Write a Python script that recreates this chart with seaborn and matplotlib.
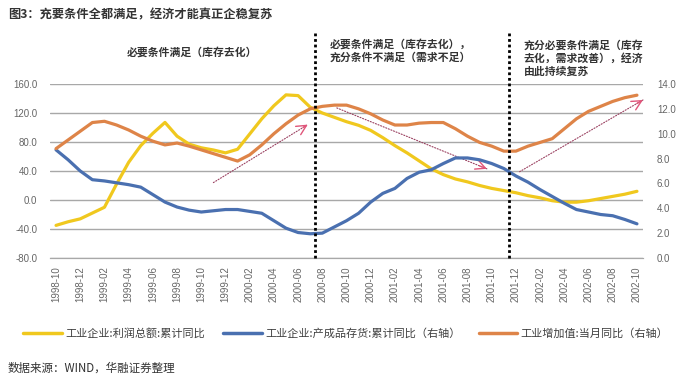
import numpy as np
import pandas as pd
import matplotlib
matplotlib.use("Agg")
import matplotlib.pyplot as plt
import seaborn as sns

# === Data (monthly 1998-10 .. 2002-10) ===
months = pd.period_range("1998-10", "2002-10", freq="M").strftime("%Y-%m").tolist()

# 工业企业:利润总额:累计同比 (left axis)
profit = [-35, -30, -26, -18, -10, 22, 52, 75, 92, 107,
          88, 77, 72, 69, 65, 70, 91, 112, 130, 145,
          144, 128, 120, 114, 108, 103, 96, 86, 75, 65,
          54, 43, 35, 29, 25, 20, 16, 13, 10, 6,
          3, -1, -3, -3, -1, 2, 5, 8, 12]

# 工业企业:产成品存货:累计同比 (right axis)
inventory = [8.7, 7.9, 7.0, 6.3, 6.2, 6.05, 5.9, 5.7, 5.1, 4.5,
             4.1, 3.85, 3.7, 3.8, 3.9, 3.9, 3.75, 3.6, 3.0, 2.4,
             2.05, 1.95, 2.0, 2.5, 3.0, 3.6, 4.5, 5.2, 5.6, 6.4,
             6.9, 7.1, 7.6, 8.05, 8.05, 7.9, 7.6, 7.2, 6.6, 6.1,
             5.5, 4.95, 4.4, 3.9, 3.7, 3.5, 3.4, 3.1, 2.75]

# 工业增加值:当月同比 (right axis)
iva = [8.8, 9.5, 10.2, 10.9, 11.0, 10.7, 10.3, 9.8, 9.4, 9.1,
       9.25, 9.0, 8.7, 8.4, 8.1, 7.8, 8.3, 9.1, 10.0, 10.8,
       11.5, 12.0, 12.2, 12.3, 12.3, 12.0, 11.6, 11.1, 10.7, 10.7,
       10.85, 10.9, 10.9, 10.4, 9.8, 9.3, 9.0, 8.6, 8.6, 9.0,
       9.3, 9.6, 10.4, 11.2, 11.8, 12.2, 12.6, 12.9, 13.1]

labels = ["工业企业:利润总额:累计同比",
          "工业企业:产成品存货:累计同比（右轴）",
          "工业增加值:当月同比（右轴）"]
colors = ["#F0C81E", "#4A70B0", "#DE8448"]

# phase dividers (month index) and trend arrows (month index, left-axis value)
dividers = [21.4, 37.4]
arrows = [((13.0, 24), (20.8, 104)),
          ((23.2, 127), (35.6, 43)),
          ((38.3, 39), (48.5, 138))]

# === Style ===
sns.set_style("white")
plt.rcParams["font.family"] = ["Liberation Sans", "Noto Sans CJK SC", "DejaVu Sans"]

W, H = 677, 381
fig = plt.figure(figsize=(W / 100, H / 100), dpi=100)
ax = fig.add_axes([50 / W, 1 - 258 / H, 593 / W, 174 / H])
ax2 = ax.twinx()

x = np.arange(len(months))
sns.lineplot(x=x, y=profit, ax=ax, color=colors[0], lw=2.3, legend=False)
sns.lineplot(x=x, y=inventory, ax=ax2, color=colors[1], lw=2.3, legend=False)
sns.lineplot(x=x, y=iva, ax=ax2, color=colors[2], lw=2.3, legend=False)

ax.set_xlim(-0.5, 48.5)
ax.set_ylim(-80, 160)
ax2.set_ylim(0, 14)
ax.set_yticks(range(-80, 161, 40))
ax.set_yticklabels([f"{v:.1f}" for v in range(-80, 161, 40)])
ax2.set_yticks(range(0, 15, 2))
ax2.set_yticklabels([f"{v:.1f}" for v in range(0, 15, 2)])
ax.set_xticks(x[::2])
ax.set_xticklabels(months[::2], rotation=90)

ax.yaxis.grid(True, color="#A8A8A8", lw=1.0)
ax.set_axisbelow(True)
for a in (ax, ax2):
    for s in ("left", "right", "top"):
        a.spines[s].set_visible(False)
    a.spines["bottom"].set_color("#A8A8A8")
    a.tick_params(length=0, labelsize=7, labelcolor="#666666")
ax.tick_params(axis="y", pad=9)
ax2.tick_params(axis="y", pad=10)
ax.tick_params(axis="x", pad=6)

# vertical phase lines reaching above the plot
for d in dividers:
    ax2.axvline(d, ymin=0, ymax=(258 - 33) / 174, color="black",
                lw=2, ls=(0, (1, 1)), clip_on=False, zorder=5)

# trend arrows
for (x0, y0), (x1, y1) in arrows:
    ax.annotate("", xy=(x1, y1), xytext=(x0, y0),
                arrowprops=dict(arrowstyle="-", color="#9A4060", lw=0.8,
                                linestyle=(0, (1, 1.5)), shrinkA=0, shrinkB=0))
    ax.annotate("", xy=(x1, y1),
                xytext=(x1 - 0.05 * (x1 - x0), y1 - 0.05 * (y1 - y0)),
                arrowprops=dict(arrowstyle="->,head_length=0.7,head_width=0.35",
                                color="#E0557A", lw=1.0, shrinkA=0, shrinkB=0))
ax2.set_zorder(ax.get_zorder() + 1)
ax2.patch.set_visible(False)

# === Texts ===
tkw = dict(fontsize=7.8, color="#333333", fontweight="bold",
           family=["Noto Sans CJK SC", "DejaVu Sans"])
fig.text(8 / W, 1 - 15 / H, "图3：充要条件全都满足，经济才能真正企稳复苏",
         fontsize=8.8, color="#333333", fontweight="bold", va="center",
         family=["Noto Sans CJK SC", "DejaVu Sans"])
fig.text(192 / W, 1 - 52 / H, "必要条件满足（库存去化）", ha="center", va="center", **tkw)
fig.text(330 / W, 1 - 51 / H, "必要条件满足（库存去化），\n充分条件不满足（需求不足）",
         ha="left", va="center", linespacing=1.3, **tkw)
fig.text(524 / W, 1 - 58 / H, "充分必要条件满足（库存\n去化，需求改善），经济\n由此持续复苏",
         ha="left", va="center", linespacing=1.3, **tkw)
fig.text(8 / W, 1 - 368 / H, "数据来源：WIND，华融证券整理",
         fontsize=8.3, color="#333333", va="center",
         family=["Noto Sans CJK SC", "DejaVu Sans"])

handles = [plt.Line2D([], [], color=c, lw=2.5) for c in colors]
fig.legend(handles, labels, loc="center", bbox_to_anchor=(346 / W, 1 - 333 / H),
           ncol=3, frameon=False, handlelength=3.5, handletextpad=0.3,
           columnspacing=1.6, prop={"family": ["Noto Sans CJK SC", "DejaVu Sans"], "size": 8},
           labelcolor="#404040")

fig.savefig("out.png", dpi=100)
